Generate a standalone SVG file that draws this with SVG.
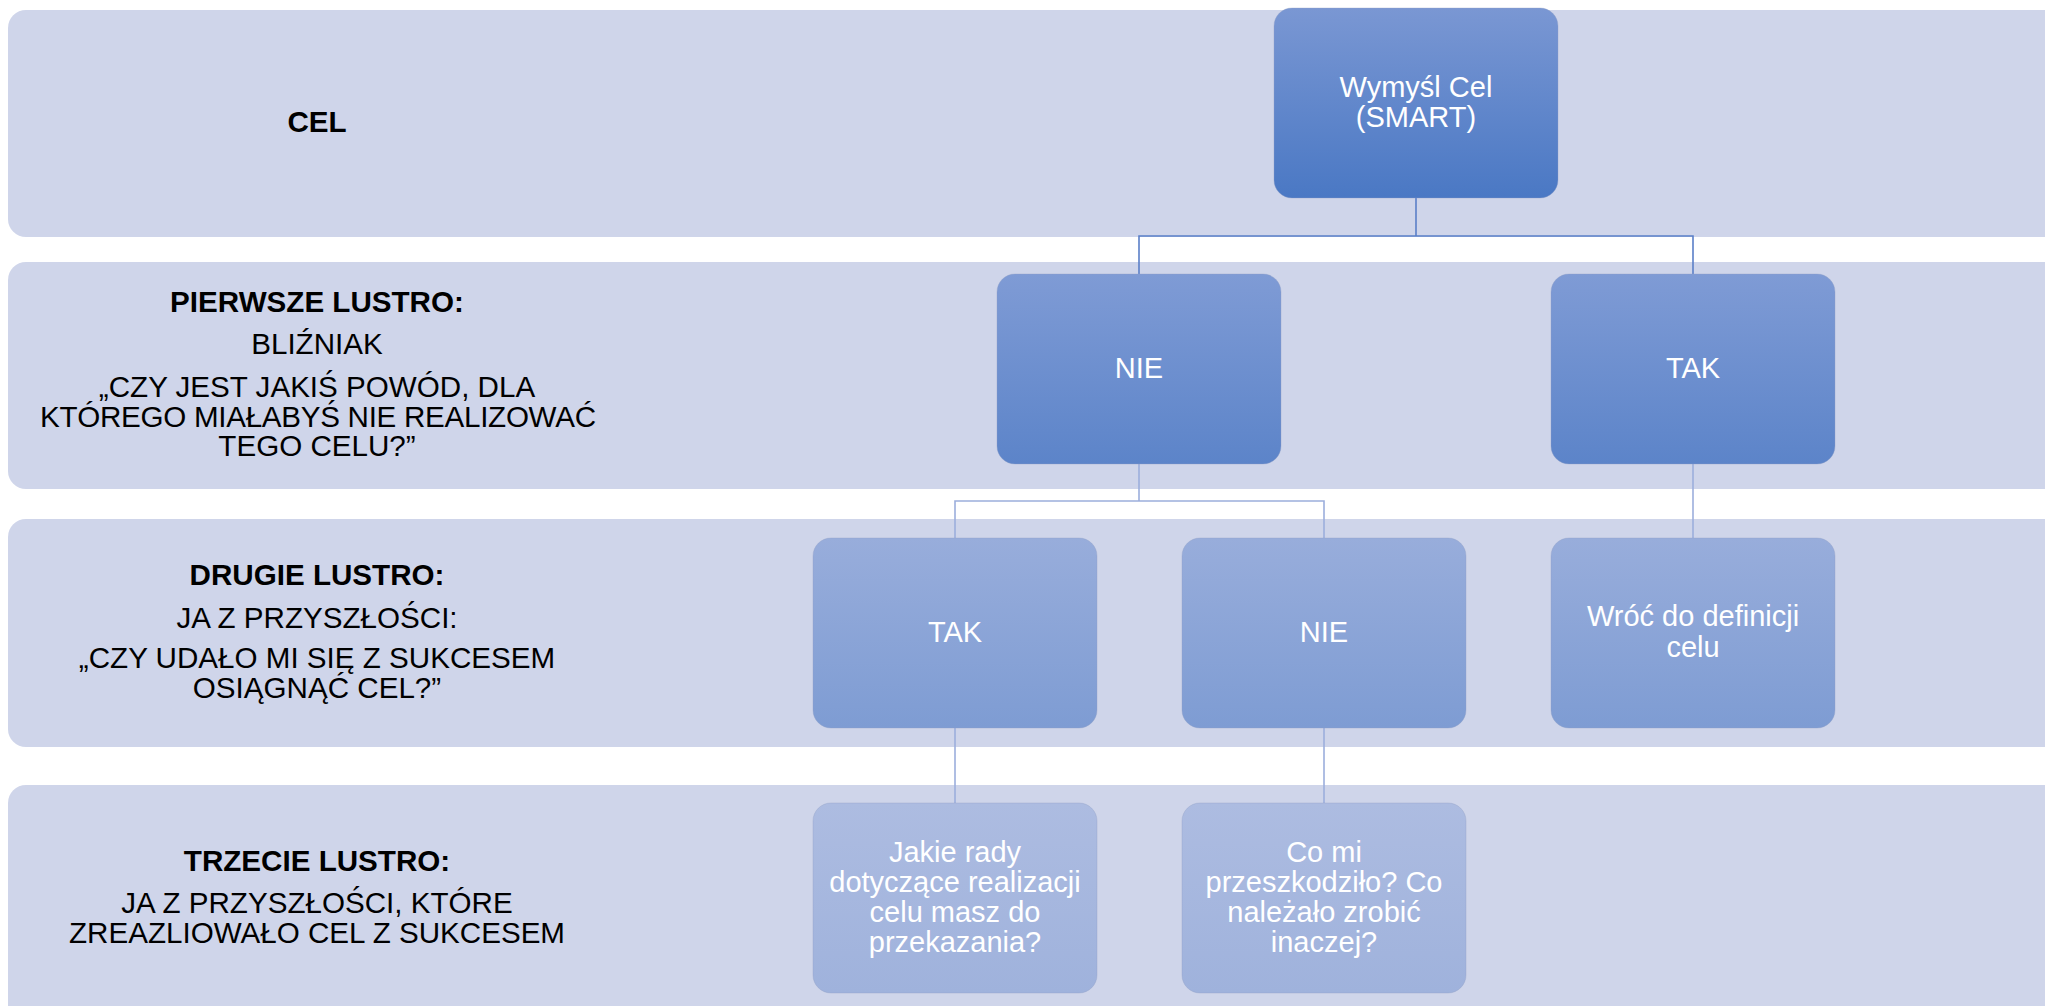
<svg xmlns="http://www.w3.org/2000/svg" width="2045" height="1006" viewBox="0 0 2045 1006">
<style>
.band{fill:#CFD5EA}
.lbl{font-family:"Liberation Sans",Arial,sans-serif;font-size:29.6px;fill:#000;text-anchor:middle}
.b{font-weight:bold}
.nt{font-family:"Liberation Sans",Arial,sans-serif;font-size:29px;fill:#fff;text-anchor:middle}
.box{stroke:#8f9fc4;stroke-opacity:0.35;stroke-width:1}
.c1{fill:none;stroke:#5A7FC8;stroke-width:1.6}
.c2{fill:none;stroke:#9CAEDC;stroke-width:1.6}
</style>
<defs>
<linearGradient id="g1" x1="0" y1="0" x2="0" y2="1"><stop offset="0" stop-color="#7A97D3"/><stop offset="1" stop-color="#4A78C4"/></linearGradient>
<linearGradient id="g2" x1="0" y1="0" x2="0" y2="1"><stop offset="0" stop-color="#7F9BD5"/><stop offset="1" stop-color="#5C84C9"/></linearGradient>
<linearGradient id="g3" x1="0" y1="0" x2="0" y2="1"><stop offset="0" stop-color="#98ADDB"/><stop offset="1" stop-color="#7E9CD3"/></linearGradient>
<linearGradient id="g4" x1="0" y1="0" x2="0" y2="1"><stop offset="0" stop-color="#ADBCE1"/><stop offset="1" stop-color="#9FB2DC"/></linearGradient>
</defs>
<g id="bands">
<rect class="band" x="8" y="10" width="2060" height="227" rx="18"/>
<rect class="band" x="8" y="262" width="2060" height="227" rx="18"/>
<rect class="band" x="8" y="519" width="2060" height="228" rx="18"/>
<rect class="band" x="8" y="785" width="2060" height="240" rx="18"/>
</g>
<g id="lane-labels">
<text class="lbl b" x="317" y="132">CEL</text>
<text class="lbl b" x="317" y="312">PIERWSZE LUSTRO:</text>
<text class="lbl" x="317" y="354">BLIŹNIAK</text>
<text class="lbl" x="317" y="397">„CZY JEST JAKIŚ POWÓD, DLA</text>
<text class="lbl" x="318" y="427" textLength="556" lengthAdjust="spacing">KTÓREGO MIAŁABYŚ NIE REALIZOWAĆ</text>
<text class="lbl" x="317" y="456">TEGO CELU?”</text>
<text class="lbl b" x="317" y="585">DRUGIE LUSTRO:</text>
<text class="lbl" x="317" y="628">JA Z PRZYSZŁOŚCI:</text>
<text class="lbl" x="317" y="668">„CZY UDAŁO MI SIĘ Z SUKCESEM</text>
<text class="lbl" x="317" y="698">OSIĄGNĄĆ CEL?”</text>
<text class="lbl b" x="317" y="871">TRZECIE LUSTRO:</text>
<text class="lbl" x="317" y="913">JA Z PRZYSZŁOŚCI, KTÓRE</text>
<text class="lbl" x="317" y="943">ZREAZLIOWAŁO CEL Z SUKCESEM</text>
</g>
<g id="connectors">
<path class="c1" d="M1416 198 V236 M1139 274 V236 H1693 V274"/>
<path class="c2" d="M1139 464 V501 M955 538 V501 H1324 V538"/>
<path class="c2" d="M1693 464 V538"/>
<path class="c2" d="M955 728 V803 M1324 728 V803"/>
</g>
<g id="n-goal">
<rect class="box" x="1274" y="8" width="284" height="190" rx="18" fill="url(#g1)"/>
<text class="nt" x="1416" y="97">Wymyśl Cel</text>
<text class="nt" x="1416" y="127">(SMART)</text>
</g>
<g id="n-nie1">
<rect class="box" x="997" y="274" width="284" height="190" rx="18" fill="url(#g2)"/>
<text class="nt" x="1139" y="378">NIE</text>
</g>
<g id="n-tak1">
<rect class="box" x="1551" y="274" width="284" height="190" rx="18" fill="url(#g2)"/>
<text class="nt" x="1693" y="378">TAK</text>
</g>
<g id="n-tak2">
<rect class="box" x="813" y="538" width="284" height="190" rx="18" fill="url(#g3)"/>
<text class="nt" x="955" y="642">TAK</text>
</g>
<g id="n-nie2">
<rect class="box" x="1182" y="538" width="284" height="190" rx="18" fill="url(#g3)"/>
<text class="nt" x="1324" y="642">NIE</text>
</g>
<g id="n-wroc">
<rect class="box" x="1551" y="538" width="284" height="190" rx="18" fill="url(#g3)"/>
<text class="nt" x="1693" y="626">Wróć do definicji</text>
<text class="nt" x="1693" y="657">celu</text>
</g>
<g id="n-rady">
<rect class="box" x="813" y="803" width="284" height="190" rx="18" fill="url(#g4)"/>
<text class="nt" x="955" y="862">Jakie rady</text>
<text class="nt" x="955" y="892">dotyczące realizacji</text>
<text class="nt" x="955" y="922">celu masz do</text>
<text class="nt" x="955" y="952">przekazania?</text>
</g>
<g id="n-przeszkody">
<rect class="box" x="1182" y="803" width="284" height="190" rx="18" fill="url(#g4)"/>
<text class="nt" x="1324" y="862">Co mi</text>
<text class="nt" x="1324" y="892">przeszkodziło? Co</text>
<text class="nt" x="1324" y="922">należało zrobić</text>
<text class="nt" x="1324" y="952">inaczej?</text>
</g>
</svg>
